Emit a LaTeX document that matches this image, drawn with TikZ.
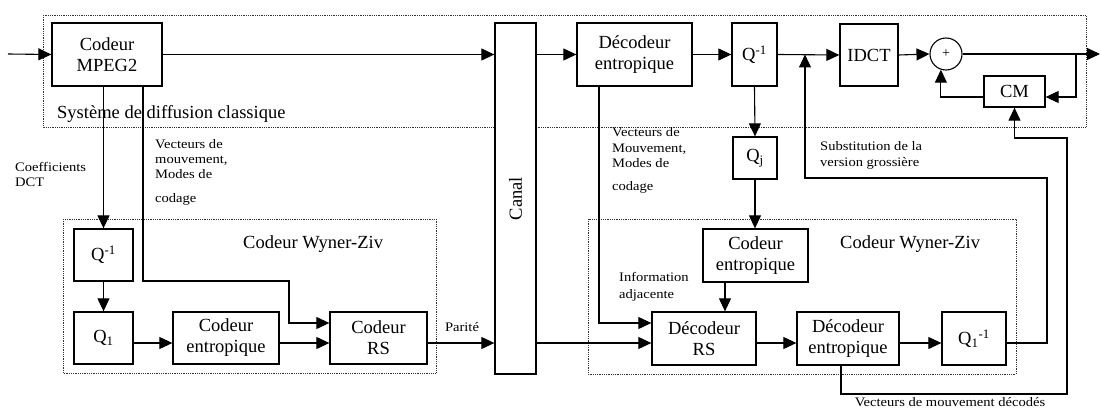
\documentclass[tikz,border=0pt]{standalone}
\usepackage{fontspec}
\usepackage{graphicx}
\setmainfont{Liberation Serif}
\newfontfamily\smallf[FakeStretch=1.12]{Liberation Serif}
\usetikzlibrary{arrows.meta}
\tikzset{
  blk/.style={draw, fill=white, line width=1.3pt, inner sep=0pt, align=center, font=\fontsize{18.5}{21}\selectfont},
  arr/.style={line width=1.1pt, -{Triangle[length=13pt,width=12pt]}},
  ln/.style={line width=1.1pt},
  grp/.style={densely dotted, line width=0.8pt, draw=black!80},
  lbl/.style={inner sep=0pt, align=left, font=\smallf\fontsize{13}{15}\selectfont},
  big/.style={inner sep=0pt, font=\fontsize{18.5}{21}\selectfont},
}
\begin{document}
\begin{tikzpicture}[x=1pt,y=-1pt]
\useasboundingbox (0,0) rectangle (1101,409);
% groups
\draw[grp] (43,15) rectangle (1086,127);
\draw[grp] (63,219) rectangle (436,373);
\draw[grp] (588,219) rectangle (1016,374);
% coordinates
\coordinate (in) at (8,54);
\coordinate (out) at (1100,54);
\coordinate (yA) at (0,343);
\coordinate (br) at (1076,54);
\coordinate (cmy) at (0,97);
\coordinate (vb) at (841,394);
\coordinate (vr) at (1067,138);
\coordinate (sr) at (1047,178);
\coordinate (sl) at (805,178);
\coordinate (cx) at (725,0);
\coordinate (dx) at (599,323);
\coordinate (v1) at (143,281);
\coordinate (v2) at (289,323);
% nodes
\node[blk, minimum width=110, minimum height=63] (mpeg) at (107,54.5) {Codeur\\MPEG2};
\node[blk, minimum width=41, minimum height=351] (canal) at (515.5,198.5) {\rotatebox{90}{Canal}};
\node[blk, minimum width=115, minimum height=63] (dect) at (634.5,54.5) {Décodeur\\entropique};
\node[blk, minimum width=45, minimum height=63] (qinv) at (754.5,54.5) {Q\textsuperscript{-1}};
\node[blk, minimum width=58, minimum height=62] (idct) at (869,55) {IDCT};
\node[draw, fill=white, circle, line width=1.1pt, minimum size=32, inner sep=0pt, font=\fontsize{14}{14}\selectfont] (plus) at (946,54) {+};
\node[blk, minimum width=61, minimum height=31] (cm) at (1014.5,91.5) {CM};
\node[blk, minimum width=44, minimum height=42] (qj) at (755,158) {Q\textsubscript{j}};
\node[blk, minimum width=105, minimum height=53] (cer) at (755.5,255.5) {Codeur\\entropique};
\node[blk, minimum width=104, minimum height=53] (drs) at (704,338.5) {Décodeur\\RS};
\node[blk, minimum width=102, minimum height=53] (deb) at (848,338.5) {Décodeur\\entropique};
\node[blk, minimum width=64, minimum height=53] (qi1) at (974,338.5) {Q\textsubscript{1}\textsuperscript{-1}};
\node[blk, minimum width=59, minimum height=52] (qinvl) at (103.5,255) {Q\textsuperscript{-1}};
\node[blk, minimum width=59, minimum height=52] (q1) at (103.5,338) {Q\textsubscript{1}};
\node[blk, minimum width=106, minimum height=52] (cel) at (226,338) {Codeur\\entropique};
\node[blk, minimum width=97, minimum height=52] (rs) at (378.5,338) {Codeur\\RS};
% top row
\draw[arr] (in) -- (mpeg.west);
\draw[arr] (mpeg.east) -- (canal.west |- mpeg.east);
\draw[arr] (canal.east |- dect.west) -- (dect.west);
\draw[arr] (dect.east) -- (qinv.west);
\draw[arr] (qinv.east) -- (idct.west);
\draw[arr] (idct.east) -- (plus.west);
\draw[arr] (plus.east) -- (out);
\draw[arr] (br) -- (br |- cmy) -- (cm.east |- cmy);
\draw[arr] (cm.west |- cmy) -| (plus.252);
\draw[arr] (deb.south -| vb) -- (vb) -| (vr) -- (cm.south |- vr) -- (cm.south);
\draw[arr] (qi1.east |- yA) -| (sr) -- (sl) -- (sl |- qinv.east);
% right column
\draw[arr] (qinv.south) -- (qj.north);
\draw[arr] (qj.south) -- (qj.south |- cer.north);
\draw[arr] (cer.south -| cx) -- (drs.north -| cx);
\draw[arr] (dect.south -| dx) -- (dx) -- (drs.west |- dx);
\draw[arr] (canal.east |- yA) -- (drs.west |- yA);
\draw[arr] (drs.east |- yA) -- (deb.west |- yA);
\draw[arr] (deb.east |- yA) -- (qi1.west |- yA);
% left part
\draw[arr] (mpeg.south -| qinvl.north) -- (qinvl.north);
\draw[arr] (qinvl.south) -- (q1.north);
\draw[arr] (q1.east |- yA) -- (cel.west |- yA);
\draw[arr] (cel.east |- yA) -- (rs.west |- yA);
\draw[arr] (rs.east |- yA) -- (canal.west |- yA);
\draw[arr] (mpeg.south -| v1) -- (v1) -| (v2) -- (rs.west |- v2);
% labels
\node[big, anchor=base west] (sys) at (57,119) {Système de diffusion classique};
\node[big, anchor=base west] (wzl) at (243,248) {Codeur Wyner-Ziv};
\node[big, anchor=base west] (wzr) at (840,248) {Codeur Wyner-Ziv};
\node[lbl, anchor=base west] (coef) at (15,186) {Coefficients\\DCT};
\node[lbl, anchor=base west] (vecl) at (155,202) {Vecteurs de\\mouvement,\\Modes de\\[9pt]codage};
\node[lbl, anchor=base west] (vecr) at (612,190) {Vecteurs de\\[1pt]Mouvement,\\Modes de\\[8pt]codage};
\node[lbl, anchor=base] (par) at (462,331) {Parité};
\node[lbl, anchor=base west, font=\smallf\fontsize{13}{17}\selectfont] (info) at (619,298) {Information\\adjacente};
\node[lbl, anchor=base west, font=\smallf\fontsize{13}{16}\selectfont] (subs) at (820,167) {Substitution de la\\version grossière};
\node[lbl, anchor=base] (vdec) at (950,406) {Vecteurs de mouvement décodés};
\end{tikzpicture}
\end{document}
